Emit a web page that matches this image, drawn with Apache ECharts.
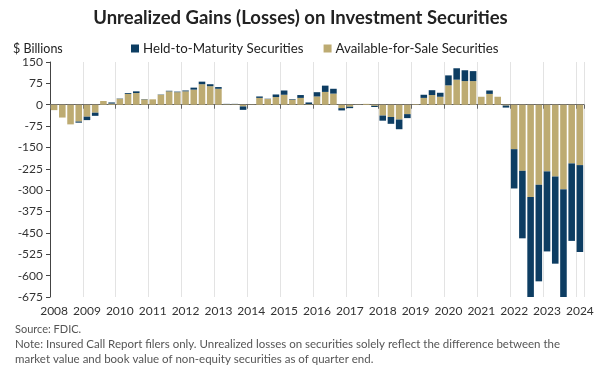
<!DOCTYPE html>
<html>
<head>
<meta charset="utf-8">
<script src="https://cdn.jsdelivr.net/npm/echarts@6/dist/echarts.min.js"></script>
<style>
html,body{margin:0;padding:0;background:#fff;}
#chart{width:601px;height:372px;}
</style>
</head>
<body>
<div id="chart"></div>
<script>
// Quarterly categories 2008Q1 .. 2024Q1
var years = [2008,2009,2010,2011,2012,2013,2014,2015,2016,2017,2018,2019,2020,2021,2022,2023,2024];
var quarters = ['Q1','Q2','Q3','Q4'];
var categories = [];
years.forEach(function (y) {
  quarters.forEach(function (q) {
    if (y < 2024 || q === 'Q1') categories.push(y + q);
  });
});

// Available-for-Sale unrealized gains (losses), $ billions
var afsValues = [
  -19, -45, -69, -59,
  -42, -28, 13, 4,
  21, 38, 41, 19,
  19, 35, 47, 44,
  47, 53, 72, 65,
  56, 2, 2, -6,
  1, 24, 20, 27,
  35, 18, 24, 2,
  29, 45, 39, -12,
  -7, 1, 3, -4,
  -38, -43, -52, -33,
  2, 24, 34, 28,
  68, 88, 83, 83,
  28, 38, 28, -3,
  -156, -232, -324, -281,
  -234, -252, -297, -206,
  -212
];

// Held-to-Maturity unrealized gains (losses), $ billions
var htmValues = [
  0, 0, 0, -4,
  -12, -11, 0, 4,
  1, 3, 6, 1,
  0, 1, 2, 2,
  3, 7, 9, 7,
  6, 1, 1, -12,
  0, 5, 1, 9,
  15, 2, 10, 6,
  15, 22, 17, -8,
  -5, 0, 0, -4,
  -18, -24, -34, -14,
  0, 11, 17, 14,
  35, 40, 38, 35,
  0, 12, 0, -7,
  -138, -237, -366, -339,
  -281, -306, -387, -272,
  -305
];

var yMin = -675, yMax = 150, yStep = 75;

var FONT = 'Lato, "Open Sans", sans-serif';
var chart = echarts.init(document.getElementById('chart'), null, {renderer: 'canvas'});

function yearBoundary(index) { return index % 4 === 0; }

chart.setOption({
  backgroundColor: '#ffffff',
  animation: false,
  textStyle: {fontFamily: FONT},
  title: [
    {text: 'Unrealized Gains (Losses) on Investment Securities', left: 'center', top: 4,
     textStyle: {fontFamily: FONT, fontSize: 18.5, fontWeight: 'bold', color: '#222'}},
    {text: '$ Billions', left: 8, top: 37,
     textStyle: {fontFamily: FONT, fontSize: 12.5, fontWeight: 'normal', color: '#222'}},
    {text: 'Source: FDIC.', left: 10, top: 319,
     textStyle: {fontFamily: FONT, fontSize: 11, fontWeight: 'normal', color: '#555'}},
    {text: 'Note: Insured Call Report filers only. Unrealized losses on securities solely reflect the difference between the\nmarket value and book value of non-equity securities as of quarter end.',
     left: 10, top: 332,
     textStyle: {fontFamily: FONT, fontSize: 11.5, fontWeight: 'normal', color: '#555', lineHeight: 15}}
  ],
  legend: {
    data: ['Held-to-Maturity Securities', 'Available-for-Sale Securities'],
    left: 126, top: 37,
    icon: 'rect', itemWidth: 8, itemHeight: 8, itemGap: 20,
    textStyle: {fontFamily: FONT, fontSize: 13.3, color: '#222', padding: [0, 0, 0, -1]}
  },
  grid: {left: 50, right: 17, top: 62, bottom: 75, containLabel: false},
  xAxis: [
    {
      type: 'category', data: categories, position: 'bottom',
      axisLine: {show: false, onZero: false},
      axisTick: {show: false},
      axisLabel: {
        interval: 3, margin: 8, fontSize: 12, color: '#333', fontFamily: FONT,
        formatter: function (v) { return v.slice(0, 4); }
      },
      splitLine: {show: true, interval: yearBoundary, lineStyle: {color: '#e3e3e3', width: 1}}
    },
    {
      type: 'category', data: categories, position: 'bottom',
      axisLine: {show: true, onZero: true, lineStyle: {color: '#666', width: 1}},
      axisTick: {show: true, interval: yearBoundary, length: 4, lineStyle: {color: '#666'}},
      axisLabel: {show: false},
      splitLine: {show: false}
    }
  ],
  yAxis: {
    type: 'value', min: yMin, max: yMax, interval: yStep,
    axisLine: {show: true, lineStyle: {color: '#444', width: 1}},
    axisTick: {show: true, length: 4, lineStyle: {color: '#444'}},
    axisLabel: {fontSize: 12, color: '#333', margin: 7, fontFamily: FONT},
    splitLine: {show: false}
  },
  series: [
    {
      name: 'Available-for-Sale Securities', type: 'bar', stack: 'total',
      data: afsValues, barWidth: '80%',
      itemStyle: {color: '#bdab72'}
    },
    {
      name: 'Held-to-Maturity Securities', type: 'bar', stack: 'total',
      data: htmValues, barWidth: '80%',
      itemStyle: {color: '#0d3d62'}
    }
  ]
});
</script>
</body>
</html>
